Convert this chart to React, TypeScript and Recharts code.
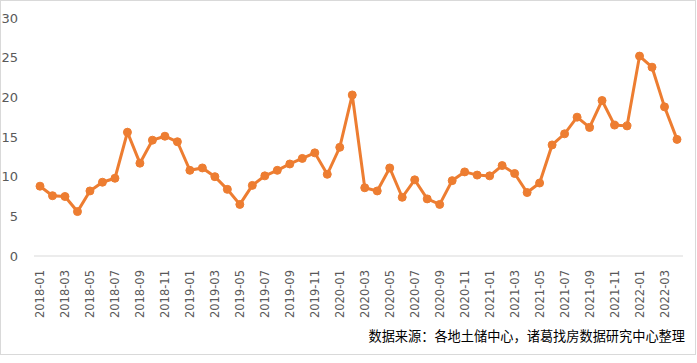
import { LineChart, Line, XAxis, YAxis } from "recharts"

// 月份（2018-01 ~ 2022-04）
const months = [
  "2018-01", "2018-02", "2018-03", "2018-04", "2018-05", "2018-06",
  "2018-07", "2018-08", "2018-09", "2018-10", "2018-11", "2018-12",
  "2019-01", "2019-02", "2019-03", "2019-04", "2019-05", "2019-06",
  "2019-07", "2019-08", "2019-09", "2019-10", "2019-11", "2019-12",
  "2020-01", "2020-02", "2020-03", "2020-04", "2020-05", "2020-06",
  "2020-07", "2020-08", "2020-09", "2020-10", "2020-11", "2020-12",
  "2021-01", "2021-02", "2021-03", "2021-04", "2021-05", "2021-06",
  "2021-07", "2021-08", "2021-09", "2021-10", "2021-11", "2021-12",
  "2022-01", "2022-02", "2022-03", "2022-04",
]

const values = [
  8.8, 7.6, 7.5, 5.6, 8.2, 9.3, 9.8, 15.6, 11.7, 14.6, 15.1, 14.4,
  10.8, 11.1, 10.0, 8.4, 6.5, 8.9, 10.1, 10.8, 11.6, 12.3, 13.0, 10.3,
  13.7, 20.3, 8.6, 8.2, 11.1, 7.4, 9.6, 7.2, 6.5, 9.5, 10.6, 10.2,
  10.1, 11.4, 10.4, 8.0, 9.2, 14.0, 15.4, 17.5, 16.2, 19.6, 16.5, 16.4,
  25.2, 23.8, 18.8, 14.7,
]

const yTicks = [0, 5, 10, 15, 20, 25, 30]

const sourceNote = "数据来源：各地土储中心，诸葛找房数据研究中心整理"

const data = months.map((m, i) => ({ month: m, value: values[i] }))

const FONT = "'DejaVu Sans', 'Noto Sans CJK SC', sans-serif"

function MonthTick(props: any) {
  const { x, y, payload } = props
  return (
    <text
      x={x}
      y={y}
      transform={`rotate(-90, ${x}, ${y})`}
      textAnchor="end"
      dx={-6}
      dy={4}
      fontSize={11.5}
      fill="#595959"
      fontFamily={FONT}
    >
      {payload.value}
    </text>
  )
}

export default function App() {
  return (
    <div
      style={{
        position: "absolute",
        left: 0,
        top: 0,
        width: 694,
        height: 353,
        border: "1px solid #d9d9d9",
        background: "#fff",
        fontFamily: FONT,
      }}
    >
      <LineChart
        width={694}
        height={353}
        data={data}
        margin={{ top: 17, right: 12, left: 0, bottom: 0 }}
      >
        <XAxis
          dataKey="month"
          interval={1}
          tickLine={false}
          axisLine={{ stroke: "#d9d9d9" }}
          tick={<MonthTick />}
          padding={{ left: 6, right: 6 }}
          height={98}
        />
        <YAxis
          domain={[0, 30]}
          ticks={yTicks}
          width={33}
          axisLine={false}
          tickLine={false}
          tickMargin={10}
          tick={{ fill: "#595959", fontSize: 13, fontFamily: FONT }}
        />
        <Line
          type="linear"
          dataKey="value"
          stroke="#ED7D31"
          strokeWidth={3}
          dot={{ r: 4, fill: "#ED7D31", stroke: "#ED7D31", strokeWidth: 1 }}
          isAnimationActive={false}
        />
      </LineChart>
      <div
        style={{
          position: "absolute",
          right: 10,
          top: 325,
          fontSize: 13.2,
          color: "#000",
          fontFamily: "'Noto Sans CJK SC', sans-serif",
          whiteSpace: "nowrap",
        }}
      >
        {sourceNote}
      </div>
    </div>
  )
}
